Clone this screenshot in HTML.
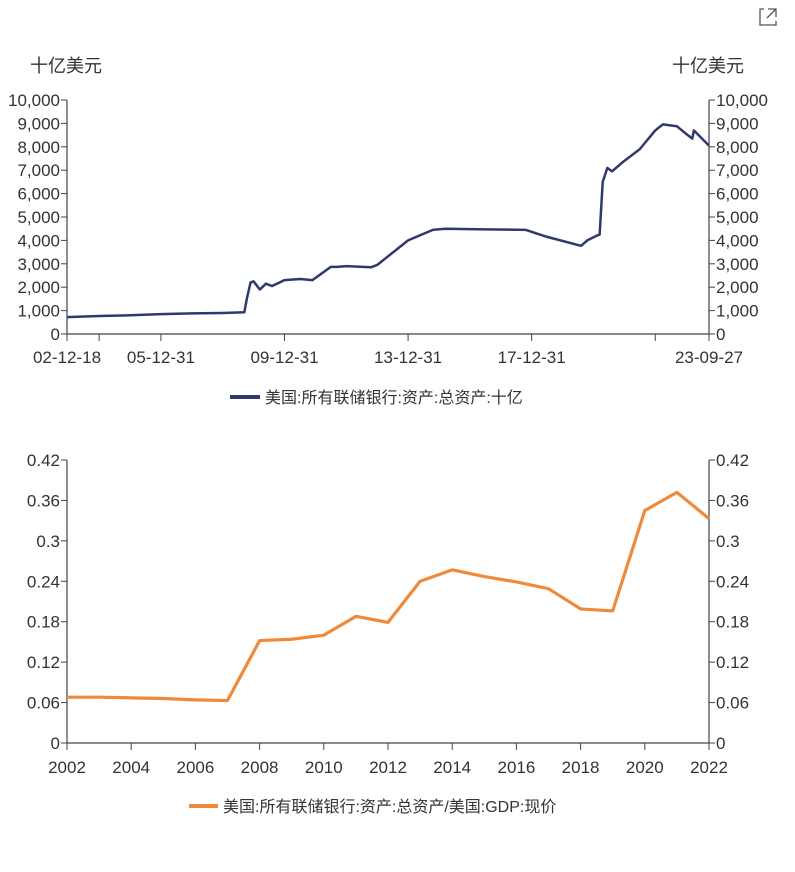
<!DOCTYPE html>
<html><head><meta charset="utf-8"><style>
body{margin:0;background:#fff;width:795px;height:867px;overflow:hidden;font-family:"Liberation Sans","Noto Sans CJK SC",sans-serif}
svg text{font-family:"Liberation Sans","Noto Sans CJK SC",sans-serif;fill:#333}
</style></head><body>
<svg id="c" width="795" height="867">
<g stroke="#555" fill="none" stroke-width="1.3">
<path d="M764 9 H760 V25 H776 V21"/><path d="M768 9 H776 V17 M776 9 L767 18"/>
</g>
<text x="30" y="72" font-size="18">十亿美元</text>
<text x="672" y="72" font-size="18">十亿美元</text>
<g id="top"></g>
<g id="bot"></g>
<g>
<line x1="230" y1="397" x2="260" y2="397" stroke="#2e3a6e" stroke-width="4"/>
<text x="265" y="403" font-size="16">美国:所有联储银行:资产:总资产:十亿</text>
</g>
<g>
<line x1="189" y1="806" x2="218" y2="806" stroke="#ef8a3a" stroke-width="4"/>
<text x="223" y="812" font-size="16">美国:所有联储银行:资产:总资产/美国:GDP:现价</text>
</g>
</svg>
<script>
// Top chart data (year fraction, billions USD)
const topYears=[2002.96,2004,2005,2006,2007,2008,2008.7,2008.78,2008.9,2009.0,2009.2,2009.4,2009.6,2010,2010.5,2010.9,2011.5,2011.7,2012.0,2012.8,2013.0,2014.0,2014.8,2015.2,2016.5,2017.8,2018.5,2019.6,2019.8,2020.1,2020.2,2020.3,2020.45,2020.6,2021.0,2021.5,2022.0,2022.25,2022.7,2023.0,2023.2,2023.25,2023.74];
const topValues=[720,770,800,850,880,900,930,1500,2200,2250,1900,2150,2050,2300,2350,2300,2870,2870,2900,2850,2950,4000,4450,4500,4470,4450,4150,3770,4000,4200,4250,6500,7100,6950,7400,7900,8700,8960,8880,8550,8350,8700,8050];
const topTicks=[0,1000,2000,3000,4000,5000,6000,7000,8000,9000,10000];
const topTickLabels=["0","1,000","2,000","3,000","4,000","5,000","6,000","7,000","8,000","9,000","10,000"];
const topXTicks=[2002.96,2004,2006,2010,2014,2018,2022,2023.74];
const topXLabels=["02-12-18","","05-12-31","09-12-31","13-12-31","17-12-31","","23-09-27"];
// Bottom chart data
const botYears=[2002,2003,2004,2005,2006,2007,2008,2009,2010,2011,2012,2013,2014,2015,2016,2017,2018,2019,2020,2021,2022];
const botValues=[0.068,0.068,0.067,0.066,0.064,0.063,0.152,0.154,0.160,0.188,0.179,0.240,0.257,0.247,0.239,0.229,0.199,0.196,0.345,0.372,0.333];
const botTicks=[0,0.06,0.12,0.18,0.24,0.30,0.36,0.42];
const botTickLabels=["0","0.06","0.12","0.18","0.24","0.3","0.36","0.42"];
const botXLabels=["2002","2004","2006","2008","2010","2012","2014","2016","2018","2020","2022"];
const NS="http://www.w3.org/2000/svg";
function mk(p,t,a){const e=document.createElementNS(NS,t);for(const k in a)e.setAttribute(k,a[k]);p.appendChild(e);return e;}
function axes(g,L,R,T,B,yv,yl,ys,pre){
  mk(g,'line',{x1:L,y1:T,x2:L,y2:B,stroke:'#444','stroke-width':1.2});
  mk(g,'line',{x1:R,y1:T,x2:R,y2:B,stroke:'#444','stroke-width':1.2});
  mk(g,'line',{x1:L,y1:B,x2:R,y2:B,stroke:'#444','stroke-width':1.2});
  yv.forEach((v,i)=>{const y=ys(v);
    mk(g,'line',{x1:L-6,y1:y,x2:L,y2:y,stroke:'#444'});
    mk(g,'line',{x1:R,y1:y,x2:R+6,y2:y,stroke:'#444'});
    const t1=mk(g,'text',{x:L-7,y:y+6,'font-size':17,'text-anchor':'end'});t1.textContent=yl[i];
    
    
    const t2=mk(g,'text',{x:R+7,y:y+6,'font-size':17});t2.textContent=yl[i];
    
    
  });
}
(function(){const g=document.getElementById('top');


const L=67,R=709,T=100,B=334;
const xs=v=>L+(v-2002.96)/(2023.74-2002.96)*(R-L), ys=v=>B-v/10000*(B-T);
axes(g,L,R,T,B,topTicks,topTickLabels,ys,'top');
topXTicks.forEach((v,i)=>{const x=xs(v);mk(g,'line',{x1:x,y1:B,x2:x,y2:B+7,stroke:'#444'});
 if(topXLabels[i]){const t=mk(g,'text',{x:x,y:B+29,'font-size':17,'text-anchor':'middle'});t.textContent=topXLabels[i];
 
 }});
const p=mk(g,'polyline',{points:topYears.map((y,i)=>xs(y)+','+ys(topValues[i])).join(' '),fill:'none',stroke:'#2e3a6e','stroke-width':2.5,'stroke-linejoin':'round'});


})();
(function(){const g=document.getElementById('bot');


const L=67,R=709,T=460,B=743;
const xs=v=>L+(v-2002)/20*(R-L), ys=v=>B-v/0.42*(B-T);
axes(g,L,R,T,B,botTicks,botTickLabels,ys,'bottom');
botXLabels.forEach(s=>{const x=xs(+s);mk(g,'line',{x1:x,y1:B,x2:x,y2:B+7,stroke:'#444'});
 const t=mk(g,'text',{x:x,y:B+30,'font-size':17,'text-anchor':'middle'});t.textContent=s;
 
 });
const p=mk(g,'polyline',{points:botYears.map((y,i)=>xs(y)+','+ys(botValues[i])).join(' '),fill:'none',stroke:'#ef8a3a','stroke-width':3.2,'stroke-linejoin':'round'});


})();
</script>
</body></html>
